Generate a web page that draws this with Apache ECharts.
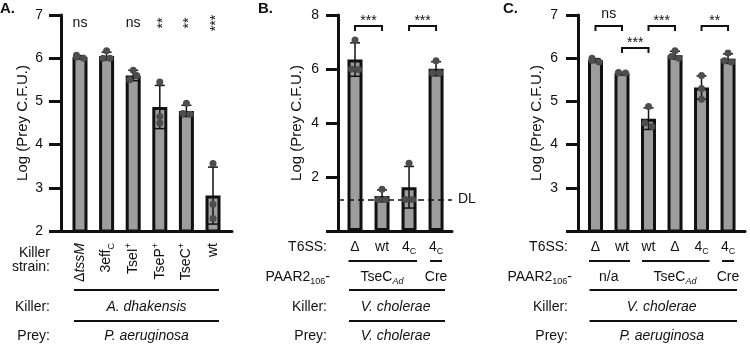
<!DOCTYPE html>
<html>
<head>
<meta charset="utf-8">
<script src="https://cdn.jsdelivr.net/npm/echarts@6/dist/echarts.min.js"></script>
<style>
  html, body { margin: 0; padding: 0; background: #fff; }
  #chart { width: 750px; height: 346px; }
</style>
</head>
<body>
<div id="chart"></div>
<script>
// ---- panel A: A. dhakensis vs P. aeruginosa ----
const strainsA = ['Δ{it|tssM}', '3eff{sub|C}', 'TseI{sup|+}', 'TseP{sup|+}', 'TseC{sup|+}', 'wt'];
const meanA = [6.03, 6.05, 5.6, 4.87, 4.78, 2.82];
const sdA = [0.03, 0.09, 0.12, 0.5, 0.13, 0.66];
const pointsA = [[6.07, 6.03, 6.0], [6.17, 6.0, 6.0], [5.72, 5.5, 5.6], [5.45, 4.65, 4.5], [4.96, 4.72, 4.7], [3.56, 2.62, 2.29]];
const sigA = ['ns', '', 'ns', '**', '**', '***'];
const yLabelsA = ['2', '3', '4', '5', '6', '7'];

// ---- panel B: V. cholerae vs V. cholerae ----
const t6ssB = ['Δ', 'wt', '4{sub|C}', '4{sub|C}'];
const meanB = [6.35, 1.3, 1.62, 6.01];
const sdB = [0.62, 0.22, 0.77, 0.26];
const pointsB = [[7.07, 6.0, 5.98], [1.55, 1.17, 1.17], [2.51, 1.17, 1.17], [6.31, 5.86, 5.86]];
const paarB = [[0, 2, 'TseC{subi|Ad}'], [3, 3, 'Cre']];
const sigB = [[0, 1, '***', 0], [2, 3, '***', 0]];
const detectionLimitB = 1.17;
const yLabelsB = ['', '2', '4', '6', '8'];

// ---- panel C: V. cholerae vs P. aeruginosa ----
const t6ssC = ['Δ', 'wt', 'wt', 'Δ', '4{sub|C}', '4{sub|C}'];
const meanC = [5.95, 5.66, 4.6, 6.07, 5.32, 5.99];
const sdC = [0.04, 0.01, 0.25, 0.09, 0.27, 0.11];
const pointsC = [[6.0, 5.95, 5.91], [5.67, 5.66, 5.66], [4.88, 4.5, 4.42], [6.17, 6.04, 6.0], [5.6, 5.3, 5.05], [6.12, 5.94, 5.91]];
const paarC = [[0, 1, 'n/a'], [2, 4, 'TseC{subi|Ad}'], [5, 5, 'Cre']];
const sigC = [[0, 1, 'ns', 0], [2, 3, '***', 0], [1, 2, '***', 1], [4, 5, '**', 0]];
const yLabelsC = ['', '3', '4', '5', '6', '7'];

const FONT = '"Liberation Sans", Arial, Helvetica, sans-serif';
const INK = '#111';
const BAR = '#9d9d9d';
const DOT = '#4d4d4d';

const RICH = {
  it: { fontStyle: 'italic', fontSize: 14, fontFamily: FONT, fill: INK, color: INK },
  sub: { fontSize: 9, fontFamily: FONT, verticalAlign: 'bottom', lineHeight: 9, fill: INK, color: INK },
  subi: { fontSize: 9, fontStyle: 'italic', fontFamily: FONT, verticalAlign: 'bottom', lineHeight: 9, fill: INK, color: INK },
  sup: { fontSize: 9, fontFamily: FONT, verticalAlign: 'top', lineHeight: 9, fill: INK, color: INK }
};

const panels = [
  { tag: 'A.', tagX: 0, left: 61, width: 171, xMin: -0.714, xMax: 5.714, yMin: 2, yMax: 7, step: 1,
    labels: yLabelsA, nameGap: 31, margin: 18, mean: meanA, sd: sdA, points: pointsA },
  { tag: 'B.', tagX: 258, left: 338, width: 114, xMin: -0.63, xMax: 3.59, yMin: 0, yMax: 8, step: 2,
    labels: yLabelsB, nameGap: 34, margin: 19, mean: meanB, sd: sdB, points: pointsB },
  { tag: 'C.', tagX: 503, left: 578, width: 167, xMin: -0.66, xMax: 5.64, yMin: 2, yMax: 7, step: 1,
    labels: yLabelsC, nameGap: 34, margin: 20, mean: meanC, sd: sdC, points: pointsC }
];

function barSeries(p, mean) {
  return {
    type: 'bar', xAxisIndex: p, yAxisIndex: p, barWidth: 15, clip: true, silent: true,
    data: mean.map((m, i) => [i, m]),
    itemStyle: { color: BAR, borderColor: INK, borderWidth: 3 }
  };
}

function errorSeries(p, mean, sd, points) {
  return {
    type: 'custom', xAxisIndex: p, yAxisIndex: p, z: 5, silent: true,
    data: mean.map((m, i) => [i, m, sd[i]].concat(points[i])),
    renderItem: function (params, api) {
      const i = api.value(0), m = api.value(1), s = api.value(2);
      const hi = api.coord([i, m + s]), lo = api.coord([i, m - s]);
      const ink = { stroke: INK, lineWidth: 1.5 };
      const kids = [
        { type: 'line', shape: { x1: hi[0], y1: hi[1], x2: lo[0], y2: lo[1] }, style: ink },
        { type: 'line', shape: { x1: hi[0] - 5, y1: hi[1], x2: hi[0] + 5, y2: hi[1] }, style: ink },
        { type: 'line', shape: { x1: lo[0] - 5, y1: lo[1], x2: lo[0] + 5, y2: lo[1] }, style: ink }
      ];
      const pts = [3, 4, 5].map(k => api.coord([i, api.value(k)]));
      pts.forEach((pt, k) => {
        let dx = 0;
        pts.forEach((o, j) => {
          if (j !== k && Math.abs(o[1] - pt[1]) < 5) dx = j > k ? -3.5 : (dx === 0 ? 3.5 : dx);
        });
        kids.push({ type: 'circle', shape: { cx: pt[0] + dx, cy: pt[1], r: 3.5 }, style: { fill: DOT } });
      });
      return { type: 'group', children: kids };
    }
  };
}

const option = {
  animation: false,
  backgroundColor: '#fff',
  textStyle: { fontFamily: FONT, color: INK },
  grid: panels.map(pn => ({ left: pn.left, width: pn.width, top: 15, height: 216, containLabel: false, outerBoundsMode: 'none' })),
  xAxis: panels.map((pn, p) => ({
    type: 'value', gridIndex: p, min: pn.xMin, max: pn.xMax,
    axisLine: { show: true, onZero: false, lineStyle: { color: INK, width: 3 } },
    axisTick: { show: false }, axisLabel: { show: false }, splitLine: { show: false }
  })),
  yAxis: panels.map((pn, p) => ({
    type: 'value', gridIndex: p, min: pn.yMin, max: pn.yMax, interval: pn.step,
    name: 'Log (Prey C.F.U.)', nameLocation: 'middle', nameGap: pn.nameGap,
    nameTextStyle: { fontSize: 15, fontFamily: FONT, color: INK },
    axisLine: { show: true, onZero: false, lineStyle: { color: INK, width: 3 } },
    axisTick: { show: true, length: 12, lineStyle: { color: INK, width: 3 } },
    axisLabel: { margin: pn.margin, fontSize: 14, fontFamily: FONT, color: INK,
      formatter: (v, idx) => pn.labels[idx] },
    splitLine: { show: false }
  })),
  series: []
};

panels.forEach((pn, p) => {
  const bars = barSeries(p, pn.mean);
  if (p === 1) {
    bars.markLine = {
      symbol: 'none', silent: true, animation: false,
      data: [{ yAxis: detectionLimitB }],
      lineStyle: { type: [6, 4], color: INK, width: 1.5 },
      label: { formatter: 'DL', position: 'end', distance: 6, fontSize: 14, fontFamily: FONT, color: INK }
    };
  }
  option.series.push(bars, errorSeries(p, pn.mean, pn.sd, pn.points));
});

const chart = echarts.init(document.getElementById('chart'));
chart.setOption(option);

// ---- annotations placed through the axes ----
function txt(text, x, y, o) {
  o = o || {};
  return {
    type: 'text', x: x, y: y, rotation: o.rot || 0, silent: true, z: 10,
    style: {
      text: text, fill: INK, fontSize: o.size || 14, fontFamily: FONT,
      fontStyle: o.italic ? 'italic' : 'normal', fontWeight: o.bold ? 'bold' : 'normal',
      align: o.align || 'center', verticalAlign: o.va || 'middle',
      textAlign: o.align || 'center', textVerticalAlign: o.va || 'middle',
      lineHeight: 18, rich: RICH
    }
  };
}
function seg(x1, y1, x2, y2, w) {
  return { type: 'line', silent: true, z: 10, shape: { x1: x1, y1: y1, x2: x2, y2: y2 }, style: { stroke: INK, lineWidth: w || 2 } };
}

const X = (p, v) => chart.convertToPixel({ xAxisIndex: p }, v);
const g = [];

panels.forEach(pn => g.push(txt(pn.tag, pn.tagX, 9, { bold: true, size: 15, align: 'left' })));

// panel A
strainsA.forEach((s, i) => g.push(txt(s, X(0, i), 243, { rot: Math.PI / 2, align: 'right' })));
sigA.forEach((s, i) => {
  if (!s) return;
  if (s === 'ns') g.push(txt(s, X(0, i), 23));
  else g.push(txt(s, X(0, i) + 3, 23, { rot: Math.PI / 2 }));
});
g.push(txt('Killer', 50, 253, { align: 'right' }), txt('strain:', 50, 267, { align: 'right' }));
{
  const a = X(0, 0) - 6, b = X(0, strainsA.length - 1) + 6, mid = (X(0, 0) + X(0, strainsA.length - 1)) / 2;
  g.push(seg(a, 290, b, 290), seg(a, 321, b, 321));
  g.push(txt('Killer:', 50, 307, { align: 'right' }), txt('Prey:', 50, 336, { align: 'right' }));
  g.push(txt('A. dhakensis', mid, 307, { italic: true }), txt('P. aeruginosa', mid, 336, { italic: true }));
}

// panels B and C
function lowerRows(p, t6ss, paar, sig, killer, prey, labelRight, paarRight) {
  t6ss.forEach((s, i) => g.push(txt(s, X(p, i), 247)));
  paar.forEach(([a, b, s]) => {
    const xa = X(p, a), xb = X(p, b);
    if (a === b) g.push(seg(xa - 6, 261, xa + 6, 261));
    else g.push(seg(xa - 6.5, 261, xb + 8, 261));
    g.push(txt(s, (xa + xb) / 2, 277));
  });
  const first = X(p, 0), last = X(p, t6ss.length - 1), mid = (first + last) / 2;
  g.push(seg(first - 6, 290, last + 9, 290), seg(first - 6, 321, last + 9, 321));
  g.push(txt('T6SS:', labelRight, 247, { align: 'right' }));
  g.push(txt('PAAR2{sub|106}-', paarRight, 277, { align: 'right' }));
  g.push(txt('Killer:', labelRight, 307, { align: 'right' }), txt('Prey:', labelRight, 336, { align: 'right' }));
  g.push(txt(killer, mid, 307, { italic: true }), txt(prey, mid, 336, { italic: true }));
  sig.forEach(([a, b, s, level]) => {
    const xa = X(p, a), xb = X(p, b), top = level ? 48 : 26;
    g.push({ type: 'polyline', silent: true, z: 10,
      shape: { points: [[xa, top + 5], [xa, top], [xb, top], [xb, top + 5]] },
      style: { stroke: INK, lineWidth: 2, fill: null } });
    g.push(txt(s, (xa + xb) / 2, top - (s === 'ns' ? 12 : 5)));
  });
}
lowerRows(1, t6ssB, paarB, sigB, 'V. cholerae', 'V. cholerae', 327, 330);
lowerRows(2, t6ssC, paarC, sigC, 'V. cholerae', 'P. aeruginosa', 568, 572);

chart.setOption({ graphic: { elements: g } });
</script>
</body>
</html>
